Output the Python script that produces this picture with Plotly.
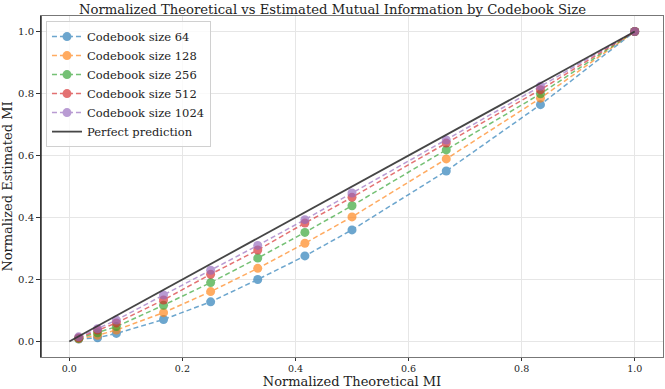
import plotly.graph_objects as go

# normalized theoretical MI (x) shared by all codebook sizes
theoretical_mi = [0.0167, 0.05, 0.0833, 0.1667, 0.25, 0.3333, 0.4167, 0.5, 0.6667, 0.8333, 1.0]

codebook_sizes = [64, 128, 256, 512, 1024]

est_64 = [0.008, 0.012, 0.026, 0.071, 0.128, 0.200, 0.276, 0.360, 0.550, 0.764, 1.0]
est_128 = [0.009, 0.020, 0.037, 0.093, 0.161, 0.236, 0.317, 0.402, 0.589, 0.785, 1.0]
est_256 = [0.010, 0.028, 0.048, 0.117, 0.190, 0.269, 0.352, 0.438, 0.618, 0.799, 1.0]
est_512 = [0.012, 0.037, 0.060, 0.134, 0.217, 0.295, 0.382, 0.465, 0.640, 0.812, 1.0]
est_1024 = [0.015, 0.041, 0.069, 0.150, 0.230, 0.310, 0.393, 0.479, 0.650, 0.823, 1.0]

estimated = [est_64, est_128, est_256, est_512, est_1024]
colors = ['#1f77b4', '#ff7f0e', '#2ca02c', '#d62728', '#9467bd']

SERIF = 'DejaVu Serif'

fig = go.Figure()

for size, vals, col in zip(codebook_sizes, estimated, colors):
    fig.add_trace(go.Scatter(
        x=theoretical_mi,
        y=vals,
        mode='lines+markers',
        name=f'Codebook size {size}',
        line=dict(color=col, width=1.5, dash='5px,3px'),
        marker=dict(color=col, size=9),
        opacity=0.65
    ))

# perfect prediction diagonal
fig.add_trace(go.Scatter(
    x=[0, 1], y=[0, 1],
    mode='lines',
    name='Perfect prediction',
    line=dict(color='#333333', width=1.8),
    opacity=0.9
))

fig.update_layout(
    width=665, height=389,
    margin=dict(l=41, r=2, t=16, b=32),
    paper_bgcolor='white',
    plot_bgcolor='white',
    font=dict(family=SERIF, color='#222222'),
    title=dict(
        text='Normalized Theoretical vs Estimated Mutual Information by Codebook Size',
        x=0.5, xanchor='center', y=0.977, yanchor='middle',
        font=dict(family=SERIF, size=13.2, color='#222222')
    ),
    legend=dict(
        x=0.008, y=0.985, xanchor='left', yanchor='top',
        bgcolor='rgba(255,255,255,0.8)',
        bordercolor='#d0d0d0', borderwidth=1,
        font=dict(family=SERIF, size=11.5, color='#222222'),
        tracegroupgap=0, itemwidth=30
    ),
    showlegend=True
)

fig.update_xaxes(
    range=[-0.05, 1.05],
    automargin=False,
    tickvals=[0, 0.2, 0.4, 0.6, 0.8, 1.0],
    ticktext=['0.0', '0.2', '0.4', '0.6', '0.8', '1.0'],
    ticks='outside', ticklen=3, tickcolor='#333333',
    tickfont=dict(family=SERIF, size=9.5, color='#222222'),
    showgrid=True, gridcolor='#e6e6e6', gridwidth=1,
    zeroline=False,
    showline=True, linecolor='#777777', linewidth=1, mirror=True,
    title=dict(text='Normalized Theoretical MI', standoff=5,
               font=dict(family=SERIF, size=13, color='#222222'))
)

fig.update_yaxes(
    range=[-0.05, 1.05],
    automargin=False,
    tickvals=[0, 0.2, 0.4, 0.6, 0.8, 1.0],
    ticktext=['0.0', '0.2', '0.4', '0.6', '0.8', '1.0'],
    ticks='outside', ticklen=4, tickcolor='#333333',
    tickfont=dict(family=SERIF, size=10, color='#222222'),
    showgrid=True, gridcolor='#e6e6e6', gridwidth=1,
    zeroline=False,
    showline=True, linecolor='#777777', linewidth=1, mirror=True,
    title=dict(text='Normalized Estimated MI', standoff=4,
               font=dict(family=SERIF, size=13, color='#222222'))
)

# darker left spine as in the reference
fig.add_shape(type='line', xref='paper', yref='paper',
              x0=0, x1=0, y0=0, y1=1,
              line=dict(color='#111111', width=1.3))

# drop the default page margin so the figure sits at the window's corner
fig.write_html("out.html", config={'displayModeBar': False},
               post_script="document.body.style.margin='0';")
